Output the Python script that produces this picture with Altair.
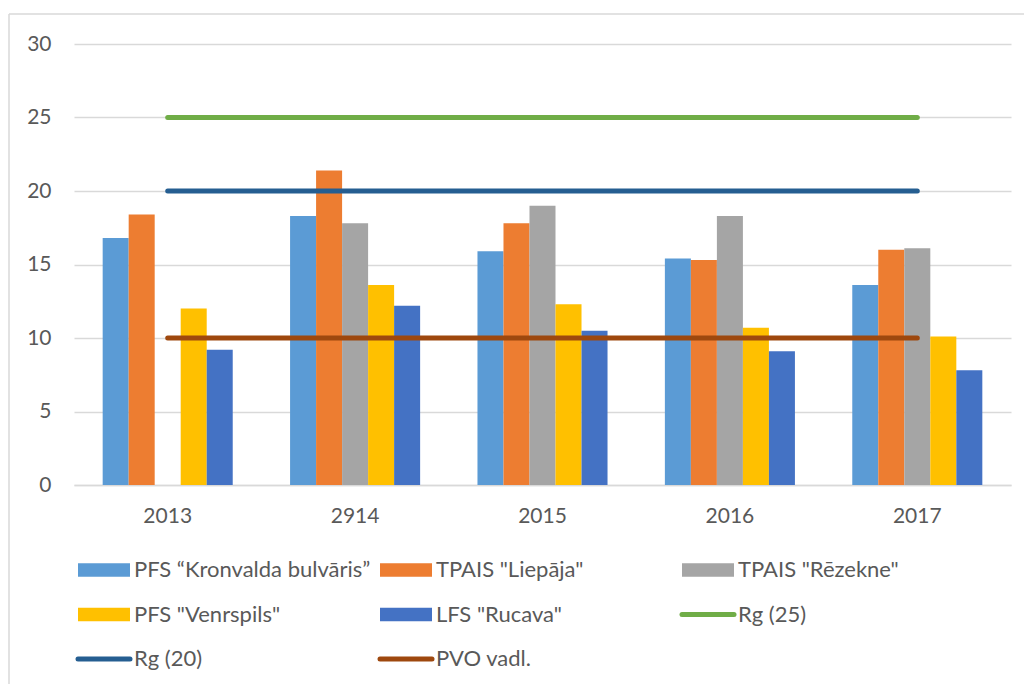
import altair as alt
import pandas as pd

# Categories (the second label is kept exactly as it appears on the axis)
years = ["2013", "2914", "2015", "2016", "2017"]

# Bar series
bar_names = [
    "PFS \u201cKronvalda bulv\u0101ris\u201d",
    'TPAIS "Liep\u0101ja"',
    'TPAIS "R\u0113zekne"',
    'PFS "Venrspils"',
    'LFS "Rucava"',
]
pfs_kronvalda = [16.8, 18.3, 15.9, 15.4, 13.6]
tpais_liepaja = [18.4, 21.4, 17.8, 15.3, 16.0]
tpais_rezekne = [None, 17.8, 19.0, 18.3, 16.1]
pfs_venrspils = [12.0, 13.6, 12.3, 10.7, 10.1]
lfs_rucava = [9.2, 12.2, 10.5, 9.1, 7.8]

# Reference-level line series
line_names = ["Rg (25)", "Rg (20)", "PVO vadl."]
rg_25 = [25, 25, 25, 25, 25]
rg_20 = [20, 20, 20, 20, 20]
pvo_vadl = [10, 10, 10, 10, 10]

bar_colors = ["#5B9BD5", "#ED7D31", "#A5A5A5", "#FFC000", "#4472C4"]
line_colors = ["#70AD47", "#255E91", "#9E480E"]

all_names = bar_names + line_names
all_colors = bar_colors + line_colors

# Long-form tables
bar_series = [pfs_kronvalda, tpais_liepaja, tpais_rezekne, pfs_venrspils, lfs_rucava]
bar_df = pd.DataFrame(
    [{"year": y, "series": n, "value": v}
     for n, vals in zip(bar_names, bar_series)
     for y, v in zip(years, vals)]
)
line_series = [rg_25, rg_20, pvo_vadl]
line_df = pd.DataFrame(
    [{"year": y, "series": n, "value": v}
     for n, vals in zip(line_names, line_series)
     for y, v in zip(years, vals)]
)

# Legend entries flow left-to-right in three columns
LEGEND_COLS = 3
legend_df = pd.DataFrame(
    [{"series": n, "col": i % LEGEND_COLS, "row": i // LEGEND_COLS,
      "kind": "bar" if n in bar_names else "line"}
     for i, n in enumerate(all_names)]
)

PLOT_W, PLOT_H = 937, 441
TEXT = "#595959"
GRID = "#D9D9D9"
FONT = "Lato"
FS = 21
LEGEND_FS = 22

COL_STEP = 302   # px between legend columns
SYMBOL_W = 52    # px legend swatch length

color = alt.Color(
    "series:N",
    scale=alt.Scale(domain=all_names, range=all_colors),
    legend=None,
)

x_year = alt.X(
    "year:N",
    sort=years,
    scale=alt.Scale(domain=years, paddingInner=0.306, paddingOuter=0.153),
    axis=alt.Axis(
        title=None, ticks=False, labelAngle=0, labelPadding=20,
        domainColor=GRID, domainWidth=1.5, grid=False,
    ),
)
y_val = alt.Y(
    "value:Q",
    scale=alt.Scale(domain=[0, 30], nice=False),
    axis=alt.Axis(
        title=None, values=[0, 5, 10, 15, 20, 25, 30], ticks=False,
        domain=False, labelPadding=23, gridColor=GRID, gridWidth=1.5,
    ),
)

bars = alt.Chart(bar_df).mark_bar().encode(
    x=x_year,
    xOffset=alt.XOffset(
        "series:N",
        sort=bar_names,
        scale=alt.Scale(domain=bar_names, paddingInner=0, paddingOuter=0),
    ),
    y=y_val,
    color=color,
)

lines = alt.Chart(line_df).mark_line(strokeWidth=5, strokeCap="round").encode(
    x=alt.X("year:N", sort=years),
    y=alt.Y("value:Q"),
    color=color,
    detail="series:N",
)

main = alt.layer(bars, lines)

# Legend drawn below the plot area
legend_x_scale = alt.Scale(domain=[0, 2], range=[4, 4 + 2 * COL_STEP], nice=False, zero=False)
lx = alt.X("col:Q", scale=legend_x_scale, axis=None)
ly = alt.Y("row:Q", scale=alt.Scale(domain=[0, 2], range=[526, 615], nice=False, zero=False), axis=None)

legend_base = alt.Chart(legend_df).transform_calculate(
    col_end=f"datum.col + {SYMBOL_W} / {COL_STEP}"
)
legend_bars = legend_base.transform_filter("datum.kind == 'bar'").mark_rule(
    strokeWidth=13.5, strokeCap="butt"
).encode(x=lx, x2="col_end:Q", y=ly, color=color)
legend_lines = legend_base.transform_filter("datum.kind == 'line'").mark_rule(
    strokeWidth=5, strokeCap="round"
).encode(x=lx, x2="col_end:Q", y=ly, color=color)
legend_text = legend_base.mark_text(
    align="left", baseline="middle", dx=4, font=FONT, fontSize=LEGEND_FS, color=TEXT
).encode(
    x=alt.X("col_end:Q", scale=legend_x_scale, axis=None),
    y=ly,
    text="series:N",
)
legend = alt.layer(legend_bars, legend_lines, legend_text)

# Light chart frame along the top and left edges
frame_src = pd.DataFrame({"f": [0]})
frame_top = alt.Chart(frame_src).mark_rule(color=GRID, strokeWidth=1.5).encode(
    x=alt.value(-65), x2=alt.value(950), y=alt.value(-30)
)
frame_left = alt.Chart(frame_src).mark_rule(color=GRID, strokeWidth=1.5).encode(
    x=alt.value(-65), y=alt.value(-30), y2=alt.value(640)
)

chart = (
    alt.layer(main, legend, frame_top, frame_left)
    .resolve_scale(x="independent", y="independent")
    .properties(
        width=PLOT_W,
        height=PLOT_H,
        padding={"left": 8, "top": 13, "right": 0, "bottom": 0},
        background="white",
    )
    .configure_view(stroke=None)
    .configure_axis(labelFont=FONT, labelFontSize=FS, labelColor=TEXT)
)

chart.save("out.html", embed_options={"renderer": "svg", "actions": False})
